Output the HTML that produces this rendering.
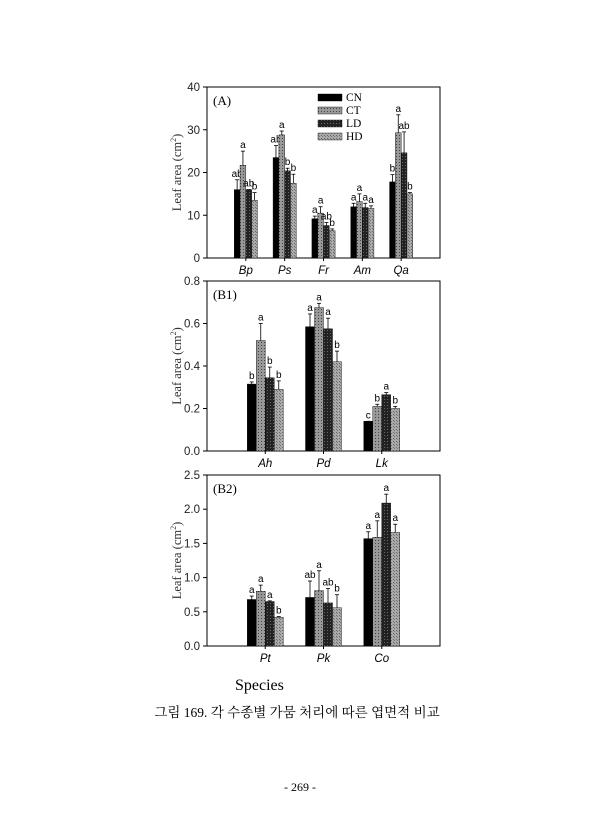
<!DOCTYPE html>
<html><head><meta charset="utf-8"><style>
body{margin:0;background:#fff;width:606px;height:840px;overflow:hidden}
svg{position:absolute;left:0;top:0}
</style></head><body>
<svg width="606" height="840">
<defs>
<pattern id="pCT" width="3" height="3" patternUnits="userSpaceOnUse"><rect width="3" height="3" fill="#999"/><rect width="1" height="1" fill="#444"/></pattern>
<pattern id="pLD" width="3" height="3" patternUnits="userSpaceOnUse"><rect width="3" height="3" fill="#222"/><rect width="1" height="1" fill="#666"/></pattern>
<pattern id="pHD" width="3" height="3" patternUnits="userSpaceOnUse"><rect width="3" height="3" fill="#aaa"/><rect width="1" height="1" fill="#666"/><rect x="1" y="1" width="1" height="1" fill="#777"/></pattern>
</defs>
<g id="root"></g>
<text x="235" y="690" font-family="Liberation Serif, serif" font-size="16">Species</text>
<text x="297" y="717" text-anchor="middle" font-family="Liberation Serif, 'Noto Serif CJK SC', serif" font-size="13.5">그림 169. 각 수종별 가뭄 처리에 따른 엽면적 비교</text>
<text x="300" y="791" text-anchor="middle" font-family="Liberation Serif, serif" font-size="12">- 269 -</text>
</svg>
<script>
const fills=['#000','url(#pCT)','url(#pLD)','url(#pHD)'];
const seriesNames=['CN','CT','LD','HD'];
const catsA=['Bp','Ps','Fr','Am','Qa'];
const cnA=[16,23.5,9.2,12,17.8];
const ctA=[21.7,28.8,10.5,13.2,29.3];
const ldA=[16,20.4,7.6,11.8,24.6];
const hdA=[13.5,17.5,6.4,11.6,15];
const errA=[[18.3,26.3,9.8,12.8,19.5],[25,29.7,12,15,33.5],[16,21,8.3,12.8,29.5],[15.3,19.6,6.8,12.2,15.3]];
const letA=[['ab','ab','a','a','b'],['a','a','a','a','a'],['ab','b','ab','a','ab'],['b','b','b','a','b']];
const ticksA=['0','10','20','30','40'];
const catsB1=['Ah','Pd','Lk'];
const cnB1=[0.315,0.585,0.14];
const ctB1=[0.52,0.675,0.21];
const ldB1=[0.345,0.575,0.265];
const hdB1=[0.29,0.42,0.2];
const errB1=[[0.325,0.645,0.14],[0.6,0.695,0.22],[0.395,0.625,0.275],[0.33,0.47,0.21]];
const letB1=[['b','a','c'],['a','a','b'],['b','a','a'],['b','b','b']];
const ticksB1=['0.0','0.2','0.4','0.6','0.8'];
const catsB2=['Pt','Pk','Co'];
const cnB2=[0.68,0.71,1.57];
const ctB2=[0.8,0.81,1.59];
const ldB2=[0.65,0.63,2.09];
const hdB2=[0.42,0.56,1.66];
const errB2=[[0.73,0.95,1.67],[0.89,1.1,1.83],[0.66,0.84,2.22],[0.43,0.75,1.78]];
const letB2=[['a','ab','a'],['a','a','a'],['a','ab','a'],['b','b','a']];
const ticksB2=['0.0','0.5','1.0','1.5','2.0','2.5'];
const NS='http://www.w3.org/2000/svg';
const root=document.getElementById('root');
function el(t,a,p){const e=document.createElementNS(NS,t);for(const k in a)e.setAttribute(k,a[k]);(p||root).appendChild(e);return e;}
function panel(key,label,top,bot,ymax,ticks,cats,series,errs,lets,bw,legend){
  const L=207,R=440;
  const g=el('g',{});
  
  
  const y=v=>bot-(v/ymax)*(bot-top);
  const n=cats.length, step=(R-L)/(n+1);
  const x=i=>L+step*(i+1);
  const box=el('rect',{x:L,y:top,width:R-L,height:bot-top,fill:'none',stroke:'#000','stroke-width':1},g);
  
  
  ticks.forEach((t,k)=>{const v=parseFloat(t);const yy=y(v);
    el('line',{x1:L-4,x2:L,y1:yy,y2:yy,stroke:'#000'},g);
    const tx=el('text',{x:L-7,y:yy+4,'text-anchor':'end','font-family':'Liberation Sans, sans-serif','font-size':11.5,fill:'#222'},g);tx.textContent=t;
    
    
  });
  const yt=el('text',{transform:`translate(181,${(top+bot)/2}) rotate(-90)`,'text-anchor':'middle','font-family':'Liberation Serif, serif','font-size':12.5,fill:'#333'},g);
  yt.innerHTML='Leaf area (cm<tspan dy="-5" font-size="8">2</tspan><tspan dy="5">)</tspan>';
  
  
  const pl=el('text',{x:L+6,y:top+18,'font-family':'Liberation Serif, serif','font-size':13},g);pl.textContent=label;
  
  
  cats.forEach((c,i)=>{
    const cx=x(i);
    el('line',{x1:cx,x2:cx,y1:bot,y2:bot+3,stroke:'#000'},g);
    const ct=el('text',{x:cx,y:bot+16,'text-anchor':'middle','font-family':'Liberation Sans, sans-serif','font-size':11.5,'font-style':'italic'},g);ct.textContent=c;
    
    
    series.forEach((s,j)=>{
      const bx=cx-2*bw+j*bw;
      const r=el('rect',{x:bx,y:y(s[i]),width:bw,height:bot-y(s[i]),fill:fills[j],stroke:'#000','stroke-width':0.4},g);
      
      
      const ex=bx+bw/2, ey=y(errs[j][i]);
      el('line',{x1:ex,x2:ex,y1:y(s[i]),y2:ey,stroke:'#000','stroke-width':0.8},g);
      el('line',{x1:ex-2,x2:ex+2,y1:ey,y2:ey,stroke:'#000','stroke-width':0.8},g);
      const lt=el('text',{x:ex,y:ey-3,'text-anchor':'middle','font-family':'Liberation Sans, sans-serif','font-size':10},g);lt.textContent=lets[j][i];
      
      
    });
  });
  if(legend){
    seriesNames.forEach((s,j)=>{
      const ly=94+j*13;
      const lr=el('rect',{x:318,y:ly,width:24,height:7,fill:fills[j],stroke:'#000','stroke-width':0.4},g);
      
      
      const lt=el('text',{x:346,y:ly+7,'font-family':'Liberation Serif, serif','font-size':11.5},g);lt.textContent=s;
      
      
    });
  }
}
panel('a','(A)',87,258,40,ticksA,catsA,[cnA,ctA,ldA,hdA],errA,letA,5.8,true);
panel('b1','(B1)',281,451,0.8,ticksB1,catsB1,[cnB1,ctB1,ldB1,hdB1],errB1,letB1,9,false);
panel('b2','(B2)',475,646,2.5,ticksB2,catsB2,[cnB2,ctB2,ldB2,hdB2],errB2,letB2,9,false);
</script>
</body></html>
